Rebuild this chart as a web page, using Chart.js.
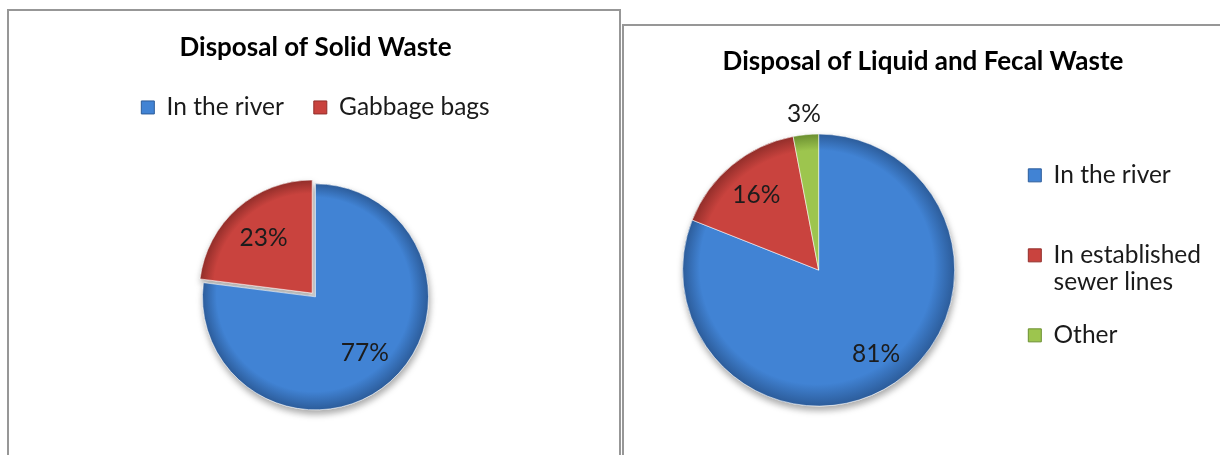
<!DOCTYPE html>
<html>
<head>
<meta charset="utf-8">
<title>Waste disposal</title>
<script src="https://cdn.jsdelivr.net/npm/chart.js@4"></script>
<style>
  html, body { margin: 0; padding: 0; background: #fff; overflow: hidden; }
  body { width: 1220px; height: 455px; position: relative; }
  .panel { position: absolute; border: 2px solid #979797; background: #fff; overflow: hidden; }
  #solidPanel { left: 7px; top: 9px; width: 610px; height: 470px; }
  #liquidPanel { left: 622px; top: 24px; width: 620px; height: 460px; }
  .panel canvas { position: absolute; left: 0; top: 0; }
</style>
</head>
<body>
<div class="panel" id="solidPanel"><canvas id="solidChart" width="610" height="453"></canvas></div>
<div class="panel" id="liquidPanel"><canvas id="liquidChart" width="596" height="430"></canvas></div>
<script>
// Disposal of Solid Waste
const solidCategories = ['In the river', 'Gabbage bags'];
const solidValues = [77, 23];

// Disposal of Liquid and Fecal Waste
const liquidCategories = ['In the river', ['In established', 'sewer lines'], 'Other'];
const liquidValues = [81, 16, 3];

const sliceColors = ['#4183d4', '#c9433e', '#9dc54e'];
const sliceDark = ['#2c5c9a', '#922e2a', '#6b8f30'];
const FONT = 'Lato, "Open Sans", sans-serif';

// radial shading so the slices look a bit like the Excel bevel
function shaded(radius) {
    return (c) => {
        const i = c.dataIndex || 0;
        const area = c.chart.chartArea;
        if (!area) return sliceColors[i];
        const cx = (area.left + area.right) / 2;
        const cy = (area.top + area.bottom) / 2;
        const g = c.chart.ctx.createRadialGradient(cx - radius * 0.1, cy - radius * 0.15, 0, cx, cy, radius);
        g.addColorStop(0, sliceColors[i]);
        g.addColorStop(0.86, sliceColors[i]);
        g.addColorStop(1, sliceDark[i]);
        return g;
    };
}

// drop shadow: draw the arcs once with a shadow, chart.js draws them again on top
const sliceShadow = {
    id: 'sliceShadow',
    beforeDatasetsDraw(chart) {
        const ctx = chart.ctx;
        ctx.save();
        ctx.shadowColor = 'rgba(0, 0, 0, 0.35)';
        ctx.shadowBlur = 7;
        ctx.shadowOffsetX = 1;
        ctx.shadowOffsetY = 4;
        chart.getDatasetMeta(0).data.forEach(arc => arc.draw(ctx));
        ctx.restore();
    }
};

// percentage labels, dist = fraction of the radius for each slice
function percentLabels(dist) {
    return {
        id: 'percentLabels',
        afterDatasetsDraw(chart) {
            const ctx = chart.ctx;
            const values = chart.data.datasets[0].data;
            const total = values.reduce((a, b) => a + b, 0);
            ctx.save();
            ctx.font = '24.5px ' + FONT;
            ctx.fillStyle = '#1c1c1c';
            ctx.textAlign = 'center';
            ctx.textBaseline = 'middle';
            chart.getDatasetMeta(0).data.forEach((arc, i) => {
                const mid = (arc.startAngle + arc.endAngle) / 2;
                const r = arc.outerRadius * dist[i] + (arc.options.offset || 0) / 4;
                ctx.fillText(Math.round(values[i] / total * 100) + '%',
                    arc.x + Math.cos(mid) * r, arc.y + Math.sin(mid) * r);
            });
            ctx.restore();
        }
    };
}

function legendItems(chart, padTo) {
    const items = Chart.overrides.doughnut.plugins.legend.labels.generateLabels(chart);
    items.forEach((item, i) => {
        item.fillStyle = sliceColors[i];
        item.strokeStyle = sliceDark[i];
        item.lineWidth = 1;
        if (padTo) {
            const lines = [].concat(chart.data.labels[i]);
            while (lines.length < padTo) lines.push('');
            item.text = lines;
        }
    });
    return items;
}

new Chart(document.getElementById('solidChart'), {
    type: 'pie',
    data: {
        labels: solidCategories,
        datasets: [{
            data: solidValues,
            backgroundColor: shaded(113),
            borderColor: 'rgba(255, 255, 255, 0.55)',
            borderWidth: 1,
            offset: [0, 20],
            radius: 113
        }]
    },
    options: {
        responsive: false,
        animation: false,
        layout: { padding: { left: 3 } },
        plugins: {
            title: {
                display: true,
                text: 'Disposal of Solid Waste',
                color: '#000',
                font: { family: FONT, size: 26, weight: 'bold' },
                padding: { top: 21, bottom: 2 }
            },
            legend: {
                position: 'top',
                labels: {
                    font: { family: FONT, size: 24.5 },
                    color: '#1a1a1a',
                    boxWidth: 13,
                    boxHeight: 13,
                    padding: 30,
                    generateLabels: (chart) => legendItems(chart, 0)
                }
            },
            tooltip: { enabled: false }
        }
    },
    plugins: [sliceShadow, percentLabels([0.66, 0.65])]
});

new Chart(document.getElementById('liquidChart'), {
    type: 'pie',
    data: {
        labels: liquidCategories,
        datasets: [{
            data: liquidValues,
            backgroundColor: shaded(136),
            borderColor: 'rgba(255, 255, 255, 0.55)',
            borderWidth: 1,
            radius: 136
        }]
    },
    options: {
        responsive: false,
        animation: false,
        layout: { padding: { left: 11, right: 9 } },
        plugins: {
            title: {
                display: true,
                text: 'Disposal of Liquid and Fecal Waste',
                color: '#000',
                font: { family: FONT, size: 26, weight: 'bold' },
                padding: { top: 20, bottom: 7 }
            },
            legend: {
                position: 'right',
                fullSize: false,
                labels: {
                    font: { family: FONT, size: 24.5, lineHeight: '27px' },
                    color: '#1a1a1a',
                    boxWidth: 13,
                    boxHeight: 13,
                    padding: 26,
                    generateLabels: (chart) => legendItems(chart, 2)
                }
            },
            tooltip: { enabled: false }
        }
    },
    plugins: [sliceShadow, percentLabels([0.75, 0.72, 1.15])]
});
</script>
</body>
</html>
